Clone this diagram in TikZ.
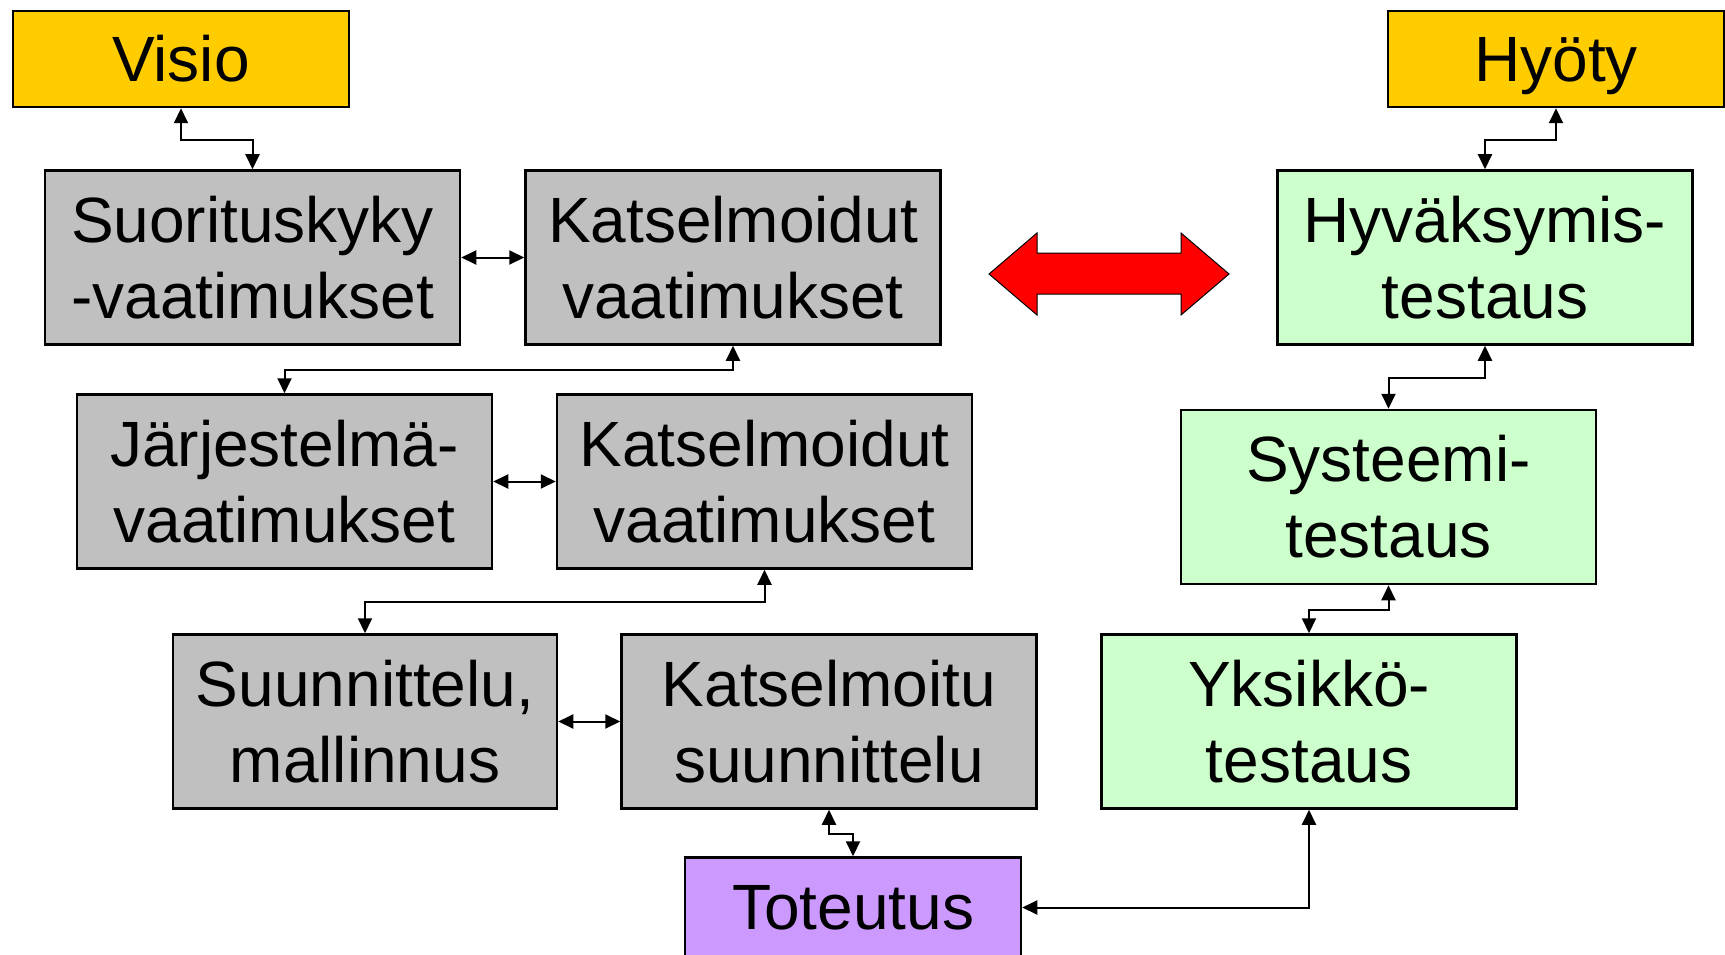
\documentclass[tikz,border=0pt]{standalone}
\usepackage{fontspec}
\setmainfont{Liberation Sans}
\usetikzlibrary{arrows.meta}
\definecolor{cyellow}{HTML}{FFCC00}
\definecolor{cgrey}{HTML}{C0C0C0}
\definecolor{cgreen}{HTML}{CCFFCC}
\definecolor{cpurple}{HTML}{CC99FF}
\definecolor{cred}{HTML}{FF0000}
\begin{document}
\begin{tikzpicture}[x=1pt,y=-1pt,
  every node/.style={font=\fontsize{64}{76}\selectfont, inner sep=0pt, draw=black, line width=2.5pt, align=center},
  bigbox/.style={minimum width=415pt, minimum height=174pt},
  smallbox/.style={minimum width=336pt, minimum height=96pt},
  conn/.style={line width=2pt, {Triangle[width=14pt,length=15pt]}-{Triangle[width=14pt,length=15pt]}}]
\useasboundingbox (0,0) rectangle (1725,955);
\clip (0,0) rectangle (1725,955);
\fill[white] (0,0) rectangle (1725,955);

\node[smallbox, fill=cyellow] (visio) at (181,59) {Visio};
\node[smallbox, fill=cyellow, text depth=0pt] (hyoty) at (1556,59) {Hyöty};

\node[bigbox, fill=cgrey] (suor) at (252.5,257.5) {Suorituskyky\\-vaatimukset};
\node[bigbox, fill=cgrey] (kat1) at (733,257.5) {Katselmoidut\\vaatimukset};
\node[bigbox, fill=cgrey] (jarj) at (284.5,481.5) {Järjestelmä-\\vaatimukset};
\node[bigbox, fill=cgrey] (kat2) at (764.5,481.5) {Katselmoidut\\vaatimukset};
\node[bigbox, fill=cgrey, minimum width=384pt] (suun) at (365,721.5) {Suunnittelu,\\mallinnus};
\node[bigbox, fill=cgrey] (kat3) at (829,721.5) {Katselmoitu\\suunnittelu};
\node[smallbox, fill=cpurple, minimum height=100pt] (tot) at (853,907.5) {Toteutus};

\node[bigbox, fill=cgreen] (hyv) at (1485,257.5) {Hyväksymis-\\testaus};
\node[bigbox, fill=cgreen] (sys) at (1388.5,497) {Systeemi-\\testaus};
\node[bigbox, fill=cgreen] (yks) at (1309,721.5) {Yksikkö-\\testaus};

\draw[conn] (visio.south) -- ++(0,32) -| (suor.north);
\draw[conn] (hyoty.south) -- ++(0,32) -| (hyv.north);
\draw[conn] (suor.east) -- (kat1.west);
\draw[conn] (kat1.south) -- ++(0,24.5) -| (jarj.north);
\draw[conn] (jarj.east) -- (kat2.west);
\draw[conn] (kat2.south) -- ++(0,32) -| (suun.north);
\draw[conn] (suun.east) -- (kat3.west);
\draw[conn] (kat3.south) -- ++(0,24.5) -| (tot.north);
\draw[conn] (hyv.south) -- ++(0,32.5) -| (sys.north);
\draw[conn] (sys.south) -- ++(0,25) -| (yks.north);
\draw[conn] (tot.east) -| (yks.south);

\draw[fill=cred, line width=1pt, line join=miter]
  (989,274) -- (1037,233) -- (1037,253) -- (1181,253) -- (1181,233) -- (1229,274)
  -- (1181,315) -- (1181,294) -- (1037,294) -- (1037,315) -- cycle;
\end{tikzpicture}
\end{document}
